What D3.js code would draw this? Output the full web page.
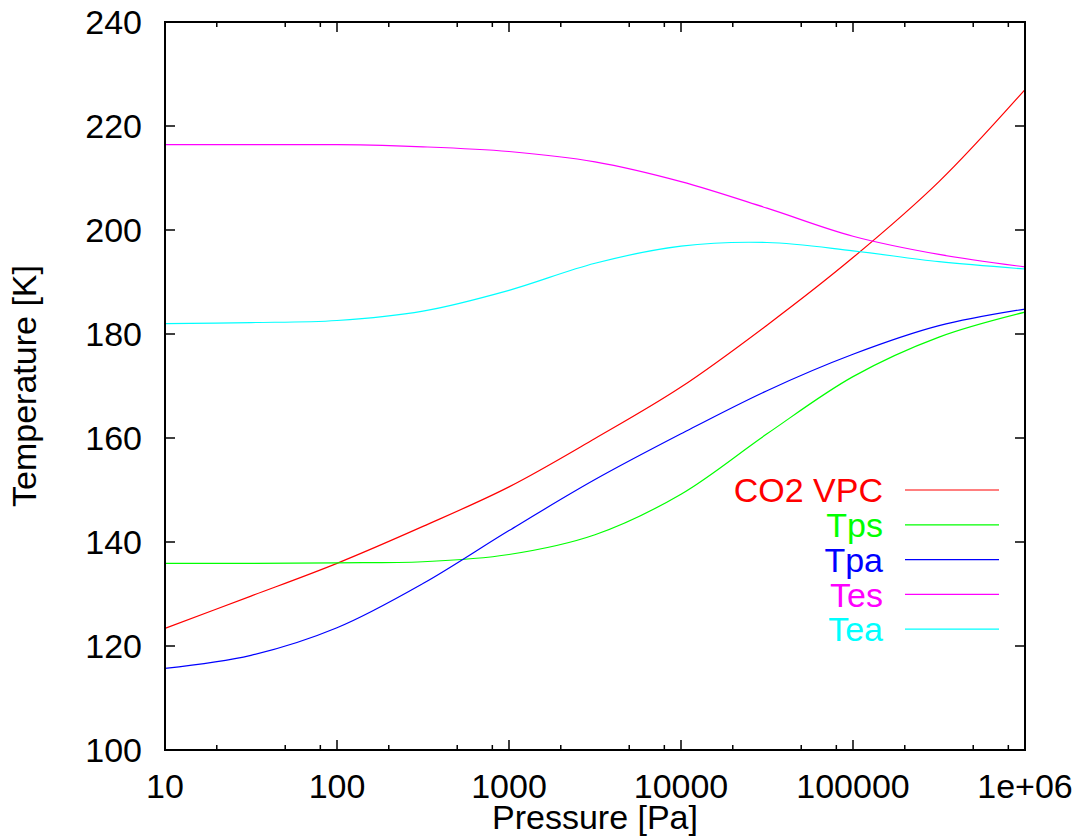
<!DOCTYPE html>
<html lang="en">
<head>
    <meta charset="UTF-8">
    <title>Temperature vs Pressure</title>
    <script src="https://d3js.org/d3.v7.min.js"></script>
    <style>
        body { margin: 0; background: #fff; }
        svg text { font-family: "Liberation Sans", Arial, sans-serif; }
    </style>
</head>
<body>
    <div id="chart"></div>
    <script>
        // Pressure samples (Pa), half-decade steps
        const pressure = [10, 31.6, 100, 316, 1000, 3162, 10000, 31623, 100000, 316228, 1000000];

        // Temperatures (K)
        const co2VPC = [123.4, 129.6, 135.9, 143.0, 150.6, 159.9, 169.8, 181.7, 194.7, 209.3, 227.0];
        const tps    = [135.9, 135.9, 136.0, 136.2, 137.6, 141.4, 149.2, 160.8, 171.8, 179.4, 184.2];
        const tpa    = [115.7, 118.2, 123.5, 132.0, 142.2, 152.0, 160.8, 169.1, 176.1, 181.6, 184.8];
        const tes    = [216.4, 216.4, 216.4, 216.0, 215.1, 213.1, 209.3, 204.2, 198.8, 195.3, 192.9];
        const tea    = [182.0, 182.2, 182.6, 184.4, 188.4, 193.6, 196.9, 197.6, 196.0, 193.9, 192.5];

        const seriesNames  = ["CO2 VPC", "Tps", "Tpa", "Tes", "Tea"];
        const seriesValues = [co2VPC, tps, tpa, tes, tea];
        const colors       = ["#ff0000", "#00ff00", "#0000ff", "#ff00ff", "#00ffff"];

        const xTicks = [10, 100, 1000, 10000, 100000, 1000000];
        const xTickLabels = ["10", "100", "1000", "10000", "100000", "1e+06"];
        const xMinorMult = [2, 5, 8];
        const yTicks = [100, 120, 140, 160, 180, 200, 220, 240];

        const svg = d3.select("#chart").append("svg")
            .attr("width", 1084)
            .attr("height", 838);

        const margin = {top: 22, right: 59, bottom: 88, left: 165},
              width = 1084 - margin.left - margin.right,
              height = 838 - margin.top - margin.bottom,
              g = svg.append("g").attr("transform", `translate(${margin.left},${margin.top})`);

        const x = d3.scaleLog().domain([10, 1e6]).range([0, width]);
        const y = d3.scaleLinear().domain([100, 240]).range([height, 0]);

        const fontSize = 34;

        // curves
        const line = d3.line()
            .x(d => x(d[0]))
            .y(d => y(d[1]))
            .curve(d3.curveCatmullRom.alpha(0.5));

        seriesValues.forEach((vals, i) => {
            g.append("path")
                .datum(pressure.map((p, j) => [p, vals[j]]))
                .attr("fill", "none")
                .attr("stroke", colors[i])
                .attr("stroke-width", 1.2)
                .attr("d", line);
        });

        // ticks (inward, mirrored)
        const minor = [];
        xTicks.slice(0, -1).forEach(t => xMinorMult.forEach(m => minor.push(t * m)));

        const tickG = g.append("g").attr("stroke", "#000").attr("stroke-width", 1.5);
        xTicks.forEach(t => {
            tickG.append("line").attr("x1", x(t)).attr("x2", x(t)).attr("y1", height).attr("y2", height - 10);
            tickG.append("line").attr("x1", x(t)).attr("x2", x(t)).attr("y1", 0).attr("y2", 10);
        });
        minor.forEach(t => {
            tickG.append("line").attr("x1", x(t)).attr("x2", x(t)).attr("y1", height).attr("y2", height - 5);
            tickG.append("line").attr("x1", x(t)).attr("x2", x(t)).attr("y1", 0).attr("y2", 5);
        });
        yTicks.forEach(t => {
            tickG.append("line").attr("x1", 0).attr("x2", 10).attr("y1", y(t)).attr("y2", y(t));
            tickG.append("line").attr("x1", width).attr("x2", width - 10).attr("y1", y(t)).attr("y2", y(t));
        });

        // border
        g.append("rect")
            .attr("width", width)
            .attr("height", height)
            .attr("fill", "none")
            .attr("stroke", "#000")
            .attr("stroke-width", 2);

        // tick labels
        xTicks.forEach((t, i) => {
            g.append("text")
                .attr("x", x(t))
                .attr("y", height + 48)
                .attr("text-anchor", "middle")
                .style("font-size", fontSize + "px")
                .text(xTickLabels[i]);
        });
        yTicks.forEach(t => {
            g.append("text")
                .attr("x", -23)
                .attr("y", y(t))
                .attr("dy", "0.36em")
                .attr("text-anchor", "end")
                .style("font-size", fontSize + "px")
                .text(t);
        });

        // axis titles
        g.append("text")
            .attr("x", width / 2)
            .attr("y", height + 79)
            .attr("text-anchor", "middle")
            .style("font-size", fontSize + "px")
            .text("Pressure [Pa]");

        g.append("text")
            .attr("transform", "rotate(-90)")
            .attr("x", -height / 2)
            .attr("y", -129)
            .attr("text-anchor", "middle")
            .style("font-size", fontSize + "px")
            .text("Temperature [K]");

        // legend
        const legend = g.append("g").attr("transform", `translate(0,${490 - margin.top})`);
        seriesNames.forEach((name, i) => {
            const ly = i * 34.8;
            legend.append("text")
                .attr("x", 883 - margin.left)
                .attr("y", ly)
                .attr("dy", "0.36em")
                .attr("text-anchor", "end")
                .style("font-size", fontSize + "px")
                .style("fill", colors[i])
                .text(name);
            legend.append("line")
                .attr("x1", 905 - margin.left)
                .attr("x2", 999 - margin.left)
                .attr("y1", ly)
                .attr("y2", ly)
                .attr("stroke", colors[i])
                .attr("stroke-width", 1.2);
        });
    </script>
</body>
</html>
